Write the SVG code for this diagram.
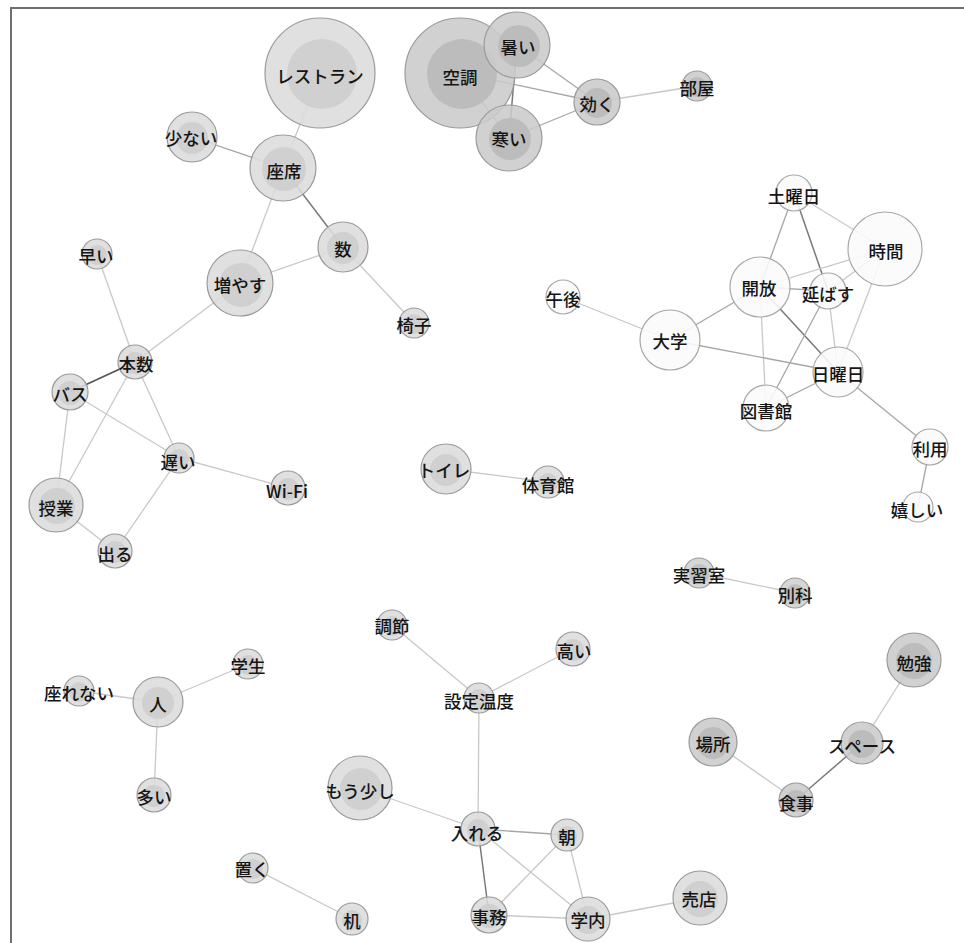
<svg xmlns="http://www.w3.org/2000/svg" width="964" height="943" viewBox="0 0 964 943">
<style>
.e{stroke:#c8c8c8;stroke-width:1.3;fill:none}
.e2{stroke:#a6a6a6;stroke-width:1.3;fill:none}
.e3{stroke:#7a7a7a;stroke-width:1.5;fill:none}
.e4{stroke:#555;stroke-width:1.8;fill:none}
.o{stroke:#9a9a9a;stroke-width:1.2;fill-opacity:0.88}
.l .o{fill:#dcdcdc}.l .i{fill:#cdcdcd}
.m .o{fill:#d0d0d0}.m .i{fill:#bdbdbd}
.d .o{fill:#cbcbcb}.d .i{fill:#b8b8b8}
.w .o{fill:#fbfbfb;stroke:#a8a8a8}.w .i{fill:#f4f4f4}
.i{fill-opacity:0.85}
text{font-family:"Noto Sans CJK JP","Noto Sans",sans-serif;font-size:17.5px;font-weight:500;fill:#151515;text-anchor:middle;dominant-baseline:central}
</style>
<rect x="0" y="0" width="964" height="943" fill="#ffffff"/>
<path d="M11 943 V8 H964" stroke="#707070" stroke-width="2" fill="none"/>
<g id="connectors">
<line class="e" x1="320" y1="73" x2="283" y2="168"/>
<line class="e2" x1="192" y1="137" x2="283" y2="168"/>
<line class="e" x1="283" y1="168" x2="240" y2="283"/>
<line class="e3" x1="283" y1="168" x2="343" y2="247"/>
<line class="e" x1="240" y1="283" x2="343" y2="247"/>
<line class="e" x1="343" y1="247" x2="414" y2="323"/>
<line class="e" x1="240" y1="283" x2="135" y2="362"/>
<line class="e" x1="97" y1="254" x2="135" y2="362"/>
<line class="e4" x1="135" y1="362" x2="70" y2="392"/>
<line class="e" x1="135" y1="362" x2="179" y2="458"/>
<line class="e" x1="135" y1="362" x2="56" y2="505"/>
<line class="e" x1="70" y1="392" x2="179" y2="458"/>
<line class="e" x1="70" y1="392" x2="56" y2="505"/>
<line class="e" x1="179" y1="458" x2="288" y2="488"/>
<line class="e" x1="179" y1="458" x2="115" y2="551"/>
<line class="e" x1="56" y1="505" x2="115" y2="551"/>
<line class="e2" x1="460" y1="73" x2="517" y2="45"/>
<line class="e2" x1="460" y1="73" x2="509" y2="138"/>
<line class="e2" x1="460" y1="73" x2="597" y2="102"/>
<line class="e3" x1="517" y1="45" x2="509" y2="138"/>
<line class="e2" x1="517" y1="45" x2="597" y2="102"/>
<line class="e2" x1="509" y1="138" x2="597" y2="102"/>
<line class="e" x1="597" y1="102" x2="697" y2="86"/>
<line class="e2" x1="794" y1="193" x2="760" y2="287"/>
<line class="e3" x1="794" y1="193" x2="828" y2="291"/>
<line class="e" x1="794" y1="193" x2="885" y2="249"/>
<line class="e" x1="885" y1="249" x2="760" y2="287"/>
<line class="e" x1="885" y1="249" x2="828" y2="291"/>
<line class="e" x1="885" y1="249" x2="838" y2="372"/>
<line class="e2" x1="760" y1="287" x2="828" y2="291"/>
<line class="e2" x1="760" y1="287" x2="670" y2="340"/>
<line class="e" x1="760" y1="287" x2="766" y2="408"/>
<line class="e3" x1="760" y1="287" x2="838" y2="372"/>
<line class="e" x1="828" y1="291" x2="838" y2="372"/>
<line class="e2" x1="828" y1="291" x2="766" y2="408"/>
<line class="e" x1="670" y1="340" x2="563" y2="297"/>
<line class="e2" x1="670" y1="340" x2="838" y2="372"/>
<line class="e2" x1="838" y1="372" x2="766" y2="408"/>
<line class="e2" x1="838" y1="372" x2="930" y2="447"/>
<line class="e2" x1="930" y1="447" x2="918" y2="507"/>
<line class="e" x1="446" y1="469" x2="548" y2="482"/>
<line class="e" x1="699" y1="573" x2="795" y2="593"/>
<line class="e" x1="392" y1="625" x2="479" y2="698"/>
<line class="e" x1="573" y1="649" x2="479" y2="698"/>
<line class="e" x1="479" y1="698" x2="478" y2="829"/>
<line class="e" x1="360" y1="788" x2="478" y2="829"/>
<line class="e2" x1="478" y1="829" x2="567" y2="835"/>
<line class="e3" x1="478" y1="829" x2="489" y2="915"/>
<line class="e" x1="478" y1="829" x2="588" y2="919"/>
<line class="e" x1="567" y1="835" x2="489" y2="915"/>
<line class="e" x1="567" y1="835" x2="588" y2="919"/>
<line class="e" x1="489" y1="915" x2="588" y2="919"/>
<line class="e" x1="588" y1="919" x2="700" y2="898"/>
<line class="e" x1="253" y1="868" x2="352" y2="919"/>
<line class="e" x1="158" y1="702" x2="248" y2="664"/>
<line class="e" x1="158" y1="702" x2="79" y2="691"/>
<line class="e" x1="158" y1="702" x2="154" y2="795"/>
<line class="e" x1="914" y1="660" x2="862" y2="743"/>
<line class="e3" x1="862" y1="743" x2="796" y2="800"/>
<line class="e" x1="713" y1="742" x2="796" y2="800"/>
</g>
<g id="n-restaurant" class="l"><circle class="o" cx="320" cy="73" r="55"/><circle class="i" cx="322" cy="74" r="35"/><text x="320" y="75">レストラン</text></g>
<g id="n-sukunai" class="l"><circle class="o" cx="192" cy="137" r="25"/><circle class="i" cx="192" cy="138" r="16"/><text x="191" y="137">少ない</text></g>
<g id="n-zaseki" class="l"><circle class="o" cx="283" cy="168" r="33"/><circle class="i" cx="284" cy="169" r="22"/><text x="284" y="170">座席</text></g>
<g id="n-hayai" class="l"><circle class="o" cx="97" cy="254" r="15"/><circle class="i" cx="97" cy="255" r="10"/><text x="96" y="255">早い</text></g>
<g id="n-fuyasu" class="l"><circle class="o" cx="240" cy="283" r="33"/><circle class="i" cx="241" cy="285" r="22"/><text x="240" y="284">増やす</text></g>
<g id="n-kazu" class="l"><circle class="o" cx="343" cy="247" r="25"/><circle class="i" cx="343" cy="248" r="16"/><text x="343" y="248">数</text></g>
<g id="n-isu" class="l"><circle class="o" cx="414" cy="323" r="15"/><circle class="i" cx="414" cy="324" r="10"/><text x="414" y="324">椅子</text></g>
<g id="n-honsu" class="l"><circle class="o" cx="135" cy="362" r="17"/><circle class="i" cx="135" cy="363" r="11"/><text x="136" y="363">本数</text></g>
<g id="n-basu" class="l"><circle class="o" cx="70" cy="392" r="18"/><circle class="i" cx="70" cy="393" r="12"/><text x="70" y="393">バス</text></g>
<g id="n-osoi" class="l"><circle class="o" cx="179" cy="458" r="15"/><circle class="i" cx="179" cy="459" r="10"/><text x="178" y="461">遅い</text></g>
<g id="n-wifi" class="l"><circle class="o" cx="288" cy="488" r="17"/><circle class="i" cx="288" cy="489" r="11"/><text x="287" y="490">Wi-Fi</text></g>
<g id="n-jugyo" class="l"><circle class="o" cx="56" cy="505" r="27"/><circle class="i" cx="57" cy="506" r="18"/><text x="56" y="507">授業</text></g>
<g id="n-deru" class="l"><circle class="o" cx="115" cy="551" r="17"/><circle class="i" cx="115" cy="552" r="11"/><text x="115" y="553">出る</text></g>
<g id="n-toire" class="l"><circle class="o" cx="446" cy="469" r="25"/><circle class="i" cx="446" cy="470" r="16"/><text x="444" y="469">トイレ</text></g>
<g id="n-taiikukan" class="l"><circle class="o" cx="548" cy="482" r="16"/><circle class="i" cx="548" cy="483" r="10"/><text x="548" y="484">体育館</text></g>
<g id="n-hito" class="l"><circle class="o" cx="158" cy="702" r="25"/><circle class="i" cx="158" cy="703" r="16"/><text x="158" y="703">人</text></g>
<g id="n-gakusei" class="l"><circle class="o" cx="248" cy="664" r="15"/><circle class="i" cx="248" cy="665" r="10"/><text x="248" y="665">学生</text></g>
<g id="n-suwarenai" class="l"><circle class="o" cx="79" cy="691" r="15"/><circle class="i" cx="79" cy="692" r="10"/><text x="79" y="692">座れない</text></g>
<g id="n-ooi" class="l"><circle class="o" cx="154" cy="795" r="17"/><circle class="i" cx="154" cy="796" r="11"/><text x="154" y="796">多い</text></g>
<g id="n-oku" class="l"><circle class="o" cx="253" cy="868" r="15"/><circle class="i" cx="253" cy="869" r="10"/><text x="252" y="868">置く</text></g>
<g id="n-tsukue" class="l"><circle class="o" cx="352" cy="919" r="16"/><circle class="i" cx="352" cy="920" r="10"/><text x="352" y="920">机</text></g>
<g id="n-chosetsu" class="l"><circle class="o" cx="392" cy="625" r="15"/><circle class="i" cx="392" cy="626" r="10"/><text x="392" y="625">調節</text></g>
<g id="n-takai" class="l"><circle class="o" cx="573" cy="649" r="17"/><circle class="i" cx="573" cy="650" r="11"/><text x="574" y="650">高い</text></g>
<g id="n-settei" class="l"><circle class="o" cx="479" cy="698" r="15"/><circle class="i" cx="479" cy="699" r="10"/><text x="479" y="700">設定温度</text></g>
<g id="n-mousukoshi" class="l"><circle class="o" cx="360" cy="788" r="32"/><circle class="i" cx="361" cy="789" r="21"/><text x="360" y="790">もう少し</text></g>
<g id="n-ireru" class="l"><circle class="o" cx="478" cy="829" r="17"/><circle class="i" cx="478" cy="830" r="11"/><text x="477" y="832">入れる</text></g>
<g id="n-asa" class="l"><circle class="o" cx="567" cy="835" r="16"/><circle class="i" cx="567" cy="836" r="10"/><text x="567" y="836">朝</text></g>
<g id="n-jimu" class="l"><circle class="o" cx="489" cy="915" r="18"/><circle class="i" cx="489" cy="916" r="12"/><text x="489" y="916">事務</text></g>
<g id="n-gakunai" class="l"><circle class="o" cx="588" cy="919" r="22"/><circle class="i" cx="588" cy="920" r="14"/><text x="588" y="919">学内</text></g>
<g id="n-baiten" class="l"><circle class="o" cx="700" cy="898" r="27"/><circle class="i" cx="700" cy="899" r="18"/><text x="699" y="898">売店</text></g>
<g id="n-jisshushitsu" class="m"><circle class="o" cx="699" cy="573" r="15"/><circle class="i" cx="699" cy="574" r="10"/><text x="699" y="574">実習室</text></g>
<g id="n-bekka" class="m"><circle class="o" cx="795" cy="593" r="15"/><circle class="i" cx="795" cy="594" r="10"/><text x="795" y="594">別科</text></g>
<g id="n-kucho" class="d"><circle class="o" cx="460" cy="73" r="55"/><circle class="i" cx="462" cy="74" r="35"/><text x="460" y="76">空調</text></g>
<g id="n-atsui" class="d"><circle class="o" cx="517" cy="45" r="33"/><circle class="i" cx="519" cy="46" r="21"/><text x="518" y="46">暑い</text></g>
<g id="n-samui" class="d"><circle class="o" cx="509" cy="138" r="33"/><circle class="i" cx="510" cy="139" r="21"/><text x="509" y="138">寒い</text></g>
<g id="n-kiku" class="d"><circle class="o" cx="597" cy="102" r="23"/><circle class="i" cx="597" cy="103" r="15"/><text x="597" y="103">効く</text></g>
<g id="n-heya" class="d"><circle class="o" cx="697" cy="86" r="15"/><circle class="i" cx="697" cy="87" r="10"/><text x="697" y="87">部屋</text></g>
<g id="n-benkyo" class="d"><circle class="o" cx="914" cy="660" r="27"/><circle class="i" cx="914" cy="661" r="18"/><text x="914" y="662">勉強</text></g>
<g id="n-basho" class="d"><circle class="o" cx="713" cy="742" r="24"/><circle class="i" cx="713" cy="743" r="16"/><text x="713" y="743">場所</text></g>
<g id="n-space" class="d"><circle class="o" cx="862" cy="743" r="21"/><circle class="i" cx="862" cy="744" r="14"/><text x="862" y="745">スペース</text></g>
<g id="n-shokuji" class="d"><circle class="o" cx="796" cy="800" r="17"/><circle class="i" cx="796" cy="801" r="11"/><text x="796" y="802">食事</text></g>
<g id="n-doyobi" class="w"><circle class="o" cx="794" cy="193" r="18"/><text x="794" y="195">土曜日</text></g>
<g id="n-jikan" class="w"><circle class="o" cx="885" cy="249" r="37"/><text x="886" y="250">時間</text></g>
<g id="n-kaiho" class="w"><circle class="o" cx="760" cy="287" r="30"/><text x="759" y="287">開放</text></g>
<g id="n-nobasu" class="w"><circle class="o" cx="828" cy="291" r="18"/><text x="828" y="293">延ばす</text></g>
<g id="n-gogo" class="w"><circle class="o" cx="563" cy="297" r="17"/><text x="563" y="298">午後</text></g>
<g id="n-daigaku" class="w"><circle class="o" cx="670" cy="340" r="30"/><text x="670" y="340">大学</text></g>
<g id="n-nichiyobi" class="w"><circle class="o" cx="838" cy="372" r="25"/><text x="838" y="373">日曜日</text></g>
<g id="n-toshokan" class="w"><circle class="o" cx="766" cy="408" r="23"/><text x="766" y="410">図書館</text></g>
<g id="n-riyo" class="w"><circle class="o" cx="930" cy="447" r="18"/><text x="930" y="448">利用</text></g>
<g id="n-ureshii" class="w"><circle class="o" cx="918" cy="507" r="15"/><text x="917" y="509">嬉しい</text></g>
</svg>
